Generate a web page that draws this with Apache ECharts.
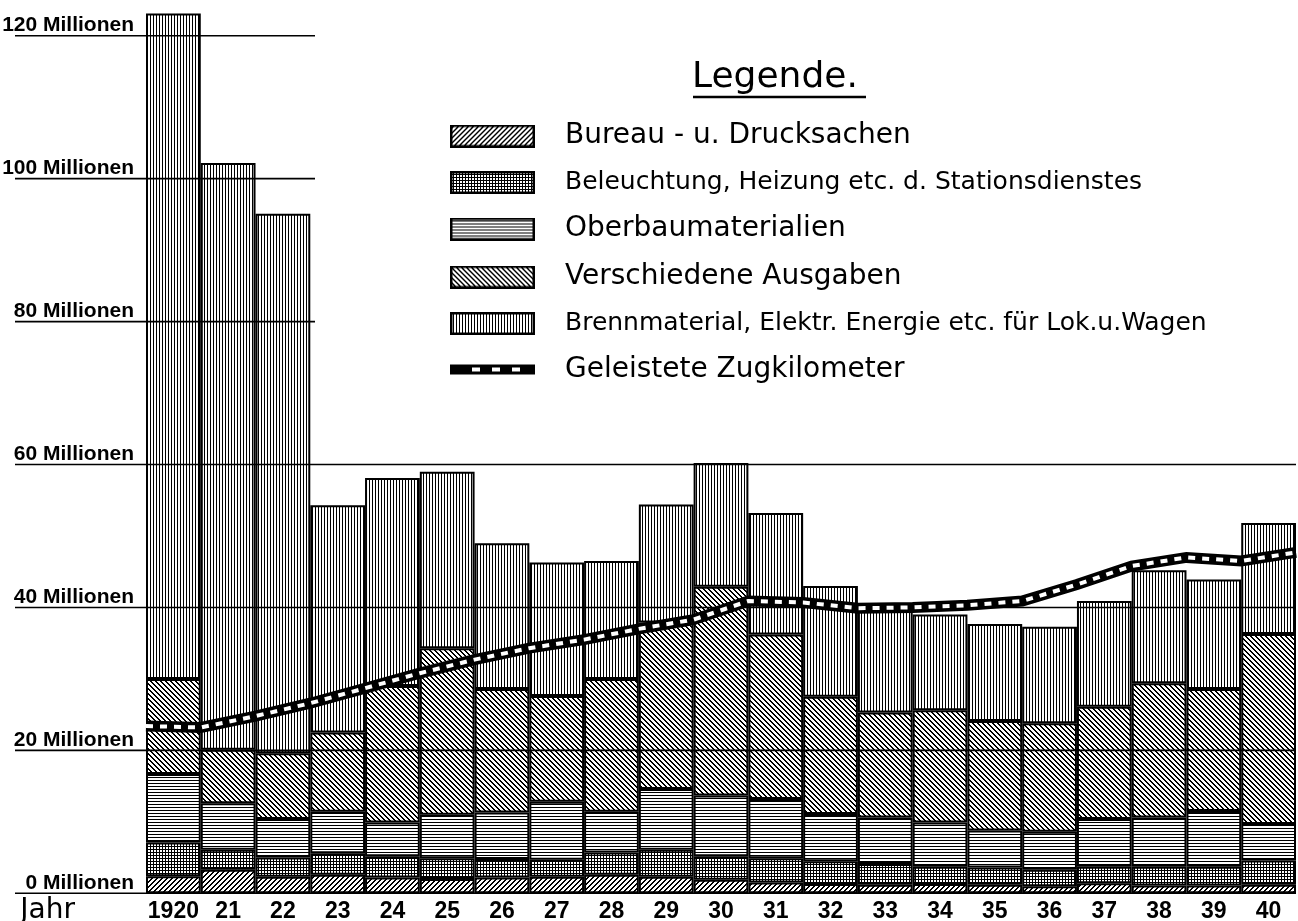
<!DOCTYPE html>
<html><head><meta charset="utf-8">
<script src="https://cdn.jsdelivr.net/npm/echarts@6/dist/echarts.min.js"></script>
<style>html,body{margin:0;padding:0;background:#fff}#c{width:1298px;height:921px}</style>
</head><body><div id="c"></div>
<script>
// ---- data (Millionen) ----
const years = ['1920','21','22','23','24','25','26','27','28','29','30','31','32','33','34','35','36','37','38','39','40'];
const bureau       = [2.4, 3.3, 2.3, 2.6, 2.2, 2.0, 2.2, 2.3, 2.6, 2.3, 1.9, 1.5, 1.3, 1.2, 1.3, 1.2, 1.0, 1.4, 1.1, 1.1, 1.2];
const beleuchtung  = [4.7, 2.8, 2.7, 3.0, 3.0, 2.9, 2.6, 2.4, 3.1, 3.8, 3.3, 3.4, 3.2, 2.9, 2.4, 2.4, 2.3, 2.3, 2.6, 2.6, 3.4];
const oberbau      = [9.6, 6.5, 5.4, 5.8, 4.7, 6.1, 6.5, 8.1, 5.7, 8.5, 8.5, 8.3, 6.6, 6.5, 6.2, 5.2, 5.3, 6.7, 6.9, 7.8, 5.1];
const verschiedene = [13.3, 7.5, 9.2, 11.1, 19.1, 23.3, 17.3, 14.8, 18.6, 23.3, 29.2, 23.0, 16.4, 14.7, 15.7, 15.3, 15.2, 15.7, 18.8, 17.1, 26.6];
const brennmaterial= [93.1, 82.1, 75.5, 31.8, 29.1, 24.7, 20.4, 18.7, 16.5, 16.5, 17.3, 17.0, 15.5, 14.2, 13.4, 13.6, 13.5, 14.8, 15.8, 15.3, 15.5];
// Zugkilometer, read at the year boundaries (start of 1920 ... end of 1940)
const zugkm = [23.4, 23.2, 24.8, 26.6, 28.7, 30.8, 32.7, 34.3, 35.5, 37.0, 38.3, 40.9, 40.7, 39.9, 40.0, 40.3, 40.9, 43.2, 45.8, 47.0, 46.5, 47.7];
const yTicks = [0, 20, 40, 60, 80, 100, 120];
const names = ['Bureau - u. Drucksachen', 'Beleuchtung, Heizung etc. d. Stationsdienstes', 'Oberbaumaterialien', 'Verschiedene Ausgaben', 'Brennmaterial, Elektr. Energie etc. für Lok.u.Wagen', 'Geleistete Zugkilometer'];

// ---- hatch patterns ----
function tile(kind) {
  const s = (kind === 'diagUp' || kind === 'diagDown') ? 5 : 3;
  const c = document.createElement('canvas'); c.width = s; c.height = s;
  const g = c.getContext('2d');
  g.fillStyle = '#fff'; g.fillRect(0, 0, s, s); g.fillStyle = '#000';
  if (kind === 'vert') g.fillRect(0, 0, 1, s);
  if (kind === 'horiz') g.fillRect(0, 0, s, 1);
  if (kind === 'grid') { g.fillRect(0, 0, 1, s); g.fillRect(0, 0, s, 1); }
  if (kind === 'diagUp') for (let i = 0; i < s; i++) { g.fillRect(i, s - 1 - i, 1, 1); g.fillRect(i, (s - i) % s, 1, 1); }
  if (kind === 'diagDown') for (let i = 0; i < s; i++) { g.fillRect(i, i, 1, 1); g.fillRect(i, (i + 1) % s, 1, 1); }
  return c;
}
const kinds = ['diagUp', 'grid', 'horiz', 'diagDown', 'vert'];
const tiles = kinds.map(tile);

function swatch(t) {
  const c = document.createElement('canvas'); c.width = 85; c.height = 23;
  const g = c.getContext('2d');
  g.fillStyle = g.createPattern(t, 'repeat'); g.fillRect(0, 0, 85, 23);
  g.strokeStyle = '#000'; g.lineWidth = 2.5; g.strokeRect(1.25, 1.25, 82.5, 20.5);
  return 'image://' + c.toDataURL();
}
function lineSwatch() {
  const c = document.createElement('canvas'); c.width = 85; c.height = 23;
  const g = c.getContext('2d');
  g.fillStyle = '#000'; g.fillRect(0, 6, 85, 10);
  g.fillStyle = '#fff';
  for (let x = 22; x < 80; x += 20) g.fillRect(x, 9, 8, 4);
  return 'image://' + c.toDataURL();
}

const chart = echarts.init(document.getElementById('c'), null, { renderer: 'canvas' });
const barData = [bureau, beleuchtung, oberbau, verschiedene, brennmaterial];
const series = barData.map((d, i) => ({
  name: names[i], type: 'bar', stack: 'kosten', data: d,
  barCategoryGap: '0%', z: 2, silent: true,
  itemStyle: { color: { image: tiles[i], repeat: 'repeat' }, borderColor: '#000', borderWidth: 2 }
}));
const lineData = zugkm.map((v, i) => [i, v]);
series.push({
  name: names[5], type: 'line', xAxisIndex: 1, data: lineData, symbol: 'none', z: 5, silent: true,
  itemStyle: { color: '#000' }, lineStyle: { color: '#000', width: 11, cap: 'butt', join: 'miter' }
});
series.push({
  name: 'Zugkilometer-Muster', type: 'line', xAxisIndex: 1, data: lineData, symbol: 'none', z: 6, silent: true,
  lineStyle: { color: '#fff', width: 4, type: [7, 7], cap: 'butt' }
});

const fontBold = '"Liberation Sans", Arial, sans-serif';
chart.setOption({
  animation: false,
  backgroundColor: '#fff',
  title: { text: 'Legende.', left: 692, top: 60, padding: 0,
    textStyle: { fontFamily: 'DejaVu Sans', fontSize: 36, fontWeight: 'normal', color: '#000' } },
  legend: {
    orient: 'vertical', left: 450, top: 122, padding: 0, itemWidth: 85, itemHeight: 23, itemGap: 20,
    selectedMode: false,
    textStyle: { fontFamily: 'DejaVu Sans', fontSize: 28, color: '#000', padding: [0, 0, 0, 25], lineHeight: 23 },
    data: [
      { name: names[0], icon: swatch(tiles[0]) },
      { name: names[1], icon: swatch(tiles[1]), textStyle: { fontSize: 25 } },
      { name: names[2], icon: swatch(tiles[2]) },
      { name: names[3], icon: swatch(tiles[3]) },
      { name: names[4], icon: swatch(tiles[4]), textStyle: { fontSize: 25 } },
      { name: names[5], icon: lineSwatch() }
    ]
  },
  grid: { left: 146, right: 2, top: 0, bottom: 27.7, containLabel: false, outerBoundsMode: 'none' },
  xAxis: [
    { type: 'category', data: years, boundaryGap: true,
      axisLine: { show: false }, axisTick: { show: false }, splitLine: { show: false },
      axisLabel: { interval: 0, margin: 7, color: '#000', fontFamily: fontBold, fontWeight: 'bold', fontSize: 23 },
      name: 'Jahr', nameLocation: 'start', nameGap: 71,
      nameTextStyle: { fontFamily: 'DejaVu Sans', fontSize: 28, color: '#000', align: 'right', verticalAlign: 'top', padding: [3, 0, 0, 0] } },
    { type: 'value', min: 0, max: years.length, show: false }
  ],
  yAxis: {
    type: 'value', min: 0, max: 125, interval: 20,
    axisLine: { show: false }, axisTick: { show: false }, splitLine: { show: false },
    axisLabel: {
      margin: 12, color: '#000', fontFamily: fontBold, fontWeight: 'bold', fontSize: 21, verticalAlign: 'bottom',
      formatter: v => (yTicks.indexOf(v) >= 0 ? v + ' Millionen' : '')
    }
  },
  series: series
});

// horizontal reference lines (the upper ones are short in the original)
const graphics = yTicks.map(v => {
  const py = chart.convertToPixel({ yAxisIndex: 0 }, v);
  return { type: 'line', id: 'g' + v, silent: true, z: 3,
    shape: { x1: 15, y1: py, x2: v >= 80 ? 315 : 1296, y2: py },
    style: { stroke: '#000', lineWidth: 1.6 } };
});
graphics.push({ type: 'line', id: 'underline', silent: true, z: 3,
  shape: { x1: 693, y1: 97, x2: 866, y2: 97 }, style: { stroke: '#000', lineWidth: 2.5 } });
chart.setOption({ graphic: graphics });
</script>
</body></html>
